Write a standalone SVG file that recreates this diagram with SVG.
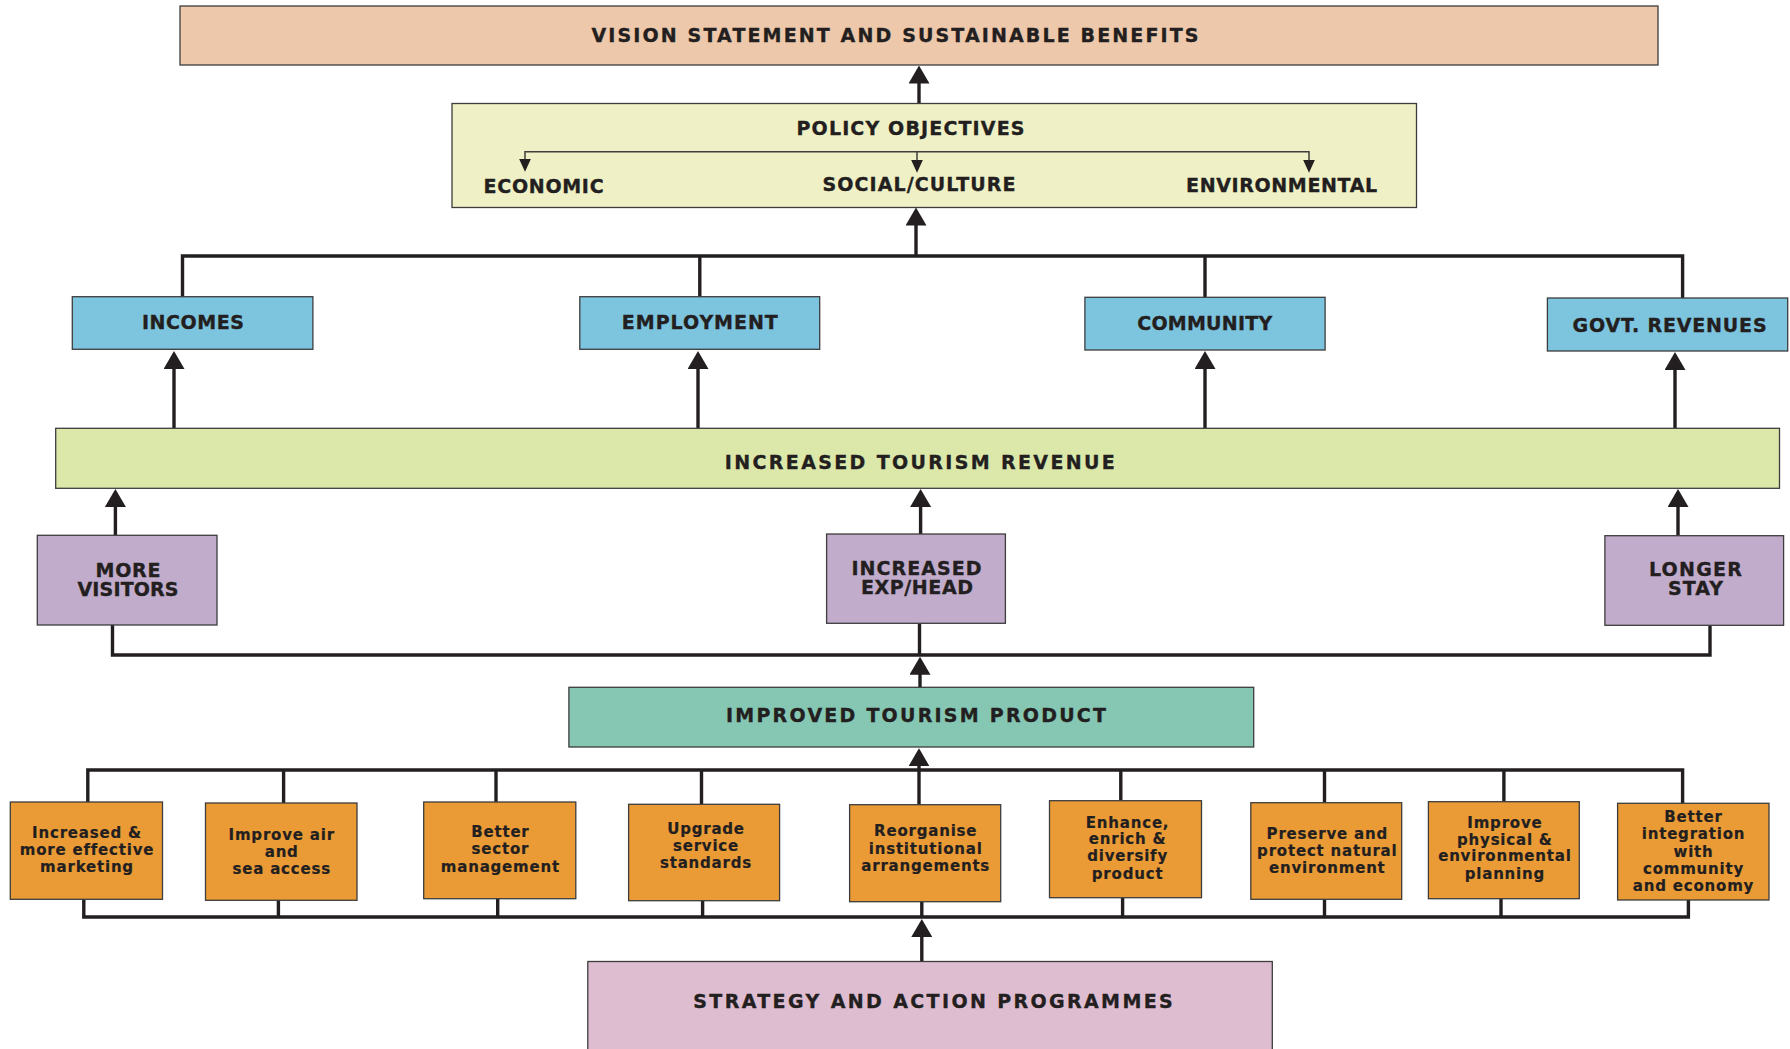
<svg xmlns="http://www.w3.org/2000/svg" width="1790" height="1049" viewBox="0 0 1790 1049">
  <defs>
    <style>
      .box { stroke: #3d3d3d; stroke-width: 1.3; }
      .vision { fill: #EEC8AB; }
      .policy { fill: #EFF0C5; }
      .blue { fill: #7DC4DF; }
      .revenue { fill: #DCE8AA; }
      .purple { fill: #C1ACCC; }
      .teal { fill: #85C7B3; }
      .orange { fill: #EA9B36; }
      .pink { fill: #DFBDD0; }
      text { font-family: "DejaVu Sans", "Liberation Sans", Arial, sans-serif; font-weight: bold; fill: #231F20; text-anchor: middle; }
      .cap { font-size: 19px; stroke: #231F20; stroke-width: 0.35; }
      .small { font-size: 15px; letter-spacing: 0.8px; stroke: #231F20; stroke-width: 0.2; }
      .link { fill: none; stroke: #231F20; stroke-width: 3.4; }
      .thin { fill: none; stroke: #3d3d3d; stroke-width: 1.5; }
    </style>
    <marker id="head" markerUnits="userSpaceOnUse" markerWidth="18" markerHeight="21" viewBox="0 0 18 21" refX="14" refY="10.5" orient="auto">
      <path d="M0,0 L18,10.5 L0,21 z" fill="#231F20"/>
    </marker>
    <marker id="headSmall" markerUnits="userSpaceOnUse" markerWidth="13" markerHeight="12" viewBox="0 0 13 12" refX="10" refY="6" orient="auto">
      <path d="M0,0 L13,6 L0,12 z" fill="#231F20"/>
    </marker>
  </defs>

  <rect width="1790" height="1049" fill="#ffffff"/>

  <!-- connectors -->
  <g id="connectors">
    <!-- policy objectives to vision -->
    <line class="link" x1="919" y1="103.5" x2="919" y2="69.5" marker-end="url(#head)"/>

    <!-- outcome boxes up to policy objectives -->
    <path class="link" d="M182.5,296.7 V256 H1682.6 V298"/>
    <line class="link" x1="699.8" y1="256" x2="699.8" y2="296.7"/>
    <line class="link" x1="1205" y1="256" x2="1205" y2="297.3"/>
    <line class="link" x1="916" y1="256" x2="916" y2="211.5" marker-end="url(#head)"/>

    <!-- revenue up to outcome boxes -->
    <line class="link" x1="174" y1="428.3" x2="174" y2="355" marker-end="url(#head)"/>
    <line class="link" x1="698" y1="428.3" x2="698" y2="355" marker-end="url(#head)"/>
    <line class="link" x1="1205" y1="428.3" x2="1205" y2="355" marker-end="url(#head)"/>
    <line class="link" x1="1675" y1="428.3" x2="1675" y2="356" marker-end="url(#head)"/>

    <!-- drivers up to revenue -->
    <line class="link" x1="115.4" y1="535.3" x2="115.4" y2="493" marker-end="url(#head)"/>
    <line class="link" x1="920.6" y1="534" x2="920.6" y2="493" marker-end="url(#head)"/>
    <line class="link" x1="1678" y1="535.7" x2="1678" y2="493" marker-end="url(#head)"/>

    <!-- drivers joined below -->
    <path class="link" d="M112.5,625 V655 H1710 V625.3"/>
    <line class="link" x1="919.5" y1="623.3" x2="919.5" y2="655"/>
    <line class="link" x1="920" y1="687.3" x2="920" y2="660.7" marker-end="url(#head)"/>

    <!-- action boxes, upper tree -->
    <path class="link" d="M87.8,802 V770 H1682.6 V803.3"/>
    <line class="link" x1="283.6" y1="770" x2="283.6" y2="803"/>
    <line class="link" x1="496" y1="770" x2="496" y2="802"/>
    <line class="link" x1="701.5" y1="770" x2="701.5" y2="804.3"/>
    <line class="link" x1="1120.8" y1="770" x2="1120.8" y2="800.7"/>
    <line class="link" x1="1324.5" y1="770" x2="1324.5" y2="802.7"/>
    <line class="link" x1="1503.9" y1="770" x2="1503.9" y2="801.7"/>
    <line class="link" x1="919" y1="804.7" x2="919" y2="752.3" marker-end="url(#head)"/>

    <!-- action boxes, lower tree -->
    <path class="link" d="M83.8,899.3 V917 H1688.4 V900"/>
    <line class="link" x1="278.4" y1="917" x2="278.4" y2="900.3"/>
    <line class="link" x1="497.7" y1="917" x2="497.7" y2="898.7"/>
    <line class="link" x1="702.6" y1="917" x2="702.6" y2="900.7"/>
    <line class="link" x1="921.8" y1="917" x2="921.8" y2="901.7"/>
    <line class="link" x1="1122.6" y1="917" x2="1122.6" y2="897.7"/>
    <line class="link" x1="1324.5" y1="917" x2="1324.5" y2="899.3"/>
    <line class="link" x1="1501" y1="917" x2="1501" y2="898.7"/>
    <line class="link" x1="921.8" y1="961.5" x2="921.8" y2="923" marker-end="url(#head)"/>
  </g>

  <!-- vision -->
  <g id="vision">
    <rect class="box vision" x="180" y="6" width="1478" height="59"/>
    <text class="cap" x="895" y="42" textLength="607">VISION STATEMENT AND SUSTAINABLE BENEFITS</text>
  </g>

  <!-- policy objectives -->
  <g id="policy">
    <rect class="box policy" x="452" y="103.5" width="964.5" height="104"/>
    <text class="cap" x="910.5" y="135" textLength="228">POLICY OBJECTIVES</text>
    <line class="thin" x1="525" y1="151.7" x2="1309" y2="151.7"/>
    <line class="thin" x1="525" y1="151" x2="525" y2="168.7" marker-end="url(#headSmall)"/>
    <line class="thin" x1="917" y1="151.7" x2="917" y2="169.7" marker-end="url(#headSmall)"/>
    <line class="thin" x1="1309" y1="151" x2="1309" y2="169.7" marker-end="url(#headSmall)"/>
    <text class="cap" x="543.6" y="192.7" textLength="120">ECONOMIC</text>
    <text class="cap" x="919" y="190.7" textLength="193">SOCIAL/CULTURE</text>
    <text class="cap" x="1281.6" y="191.7" textLength="191">ENVIRONMENTAL</text>
  </g>

  <!-- outcomes -->
  <g id="incomes">
    <rect class="box blue" x="72.3" y="296.7" width="240.6" height="52.6"/>
    <text class="cap" x="192.9" y="329.3" textLength="102">INCOMES</text>
  </g>
  <g id="employment">
    <rect class="box blue" x="579.8" y="296.7" width="239.9" height="52.6"/>
    <text class="cap" x="699.8" y="329" textLength="156">EMPLOYMENT</text>
  </g>
  <g id="community">
    <rect class="box blue" x="1084.9" y="297.3" width="240.2" height="52.7"/>
    <text class="cap" x="1204.7" y="330" textLength="135">COMMUNITY</text>
  </g>
  <g id="govt-revenues">
    <rect class="box blue" x="1547.4" y="298" width="240.3" height="53"/>
    <text class="cap" x="1669.6" y="331.7" textLength="194">GOVT. REVENUES</text>
  </g>

  <!-- revenue -->
  <g id="tourism-revenue">
    <rect class="box revenue" x="55.7" y="428.3" width="1723.8" height="60"/>
    <text class="cap" x="919.8" y="468.7" textLength="390">INCREASED TOURISM REVENUE</text>
  </g>

  <!-- drivers -->
  <g id="more-visitors">
    <rect class="box purple" x="37.3" y="535.3" width="179.7" height="89.7"/>
    <text class="cap" x="128" y="577.3" textLength="65">MORE</text>
    <text class="cap" x="128" y="596" textLength="101">VISITORS</text>
  </g>
  <g id="exp-head">
    <rect class="box purple" x="826.6" y="534" width="178.8" height="89.3"/>
    <text class="cap" x="916.5" y="575" textLength="130">INCREASED</text>
    <text class="cap" x="917" y="594" textLength="112">EXP/HEAD</text>
  </g>
  <g id="longer-stay">
    <rect class="box purple" x="1604.9" y="535.7" width="178.7" height="89.6"/>
    <text class="cap" x="1695.4" y="576" textLength="93">LONGER</text>
    <text class="cap" x="1695.4" y="595.3" textLength="55">STAY</text>
  </g>

  <!-- product -->
  <g id="tourism-product">
    <rect class="box teal" x="568.9" y="687.3" width="684.8" height="59.7"/>
    <text class="cap" x="916" y="722.3" textLength="380">IMPROVED TOURISM PRODUCT</text>
  </g>

  <!-- actions -->
  <g id="action-marketing">
    <rect class="box orange" x="10.3" y="802" width="152.2" height="97.3"/>
    <text class="small" x="87" y="838.3">Increased &amp;</text>
    <text class="small" x="87" y="855">more effective</text>
    <text class="small" x="87" y="872">marketing</text>
  </g>
  <g id="action-access">
    <rect class="box orange" x="205.5" y="803" width="151.5" height="97.3"/>
    <text class="small" x="281.7" y="840">Improve air</text>
    <text class="small" x="281.7" y="857.3">and</text>
    <text class="small" x="281.7" y="874.3">sea access</text>
  </g>
  <g id="action-management">
    <rect class="box orange" x="423.7" y="802" width="152.1" height="96.7"/>
    <text class="small" x="500.4" y="837.3">Better</text>
    <text class="small" x="500.4" y="854.3">sector</text>
    <text class="small" x="500.4" y="872.3">management</text>
  </g>
  <g id="action-standards">
    <rect class="box orange" x="628.6" y="804.3" width="151" height="96.4"/>
    <text class="small" x="706" y="834">Upgrade</text>
    <text class="small" x="706" y="851.3">service</text>
    <text class="small" x="706" y="868.3">standards</text>
  </g>
  <g id="action-institutions">
    <rect class="box orange" x="849.6" y="804.7" width="151.1" height="97"/>
    <text class="small" x="925.7" y="836">Reorganise</text>
    <text class="small" x="925.7" y="854">institutional</text>
    <text class="small" x="925.7" y="871">arrangements</text>
  </g>
  <g id="action-product">
    <rect class="box orange" x="1049.5" y="800.7" width="152" height="97"/>
    <text class="small" x="1127.6" y="827.7">Enhance,</text>
    <text class="small" x="1127.6" y="844.3">enrich &amp;</text>
    <text class="small" x="1127.6" y="861.3">diversify</text>
    <text class="small" x="1127.6" y="878.7">product</text>
  </g>
  <g id="action-environment">
    <rect class="box orange" x="1250.8" y="802.7" width="150.9" height="96.6"/>
    <text class="small" x="1327.3" y="839">Preserve and</text>
    <text class="small" x="1327.3" y="856">protect natural</text>
    <text class="small" x="1327.3" y="872.7">environment</text>
  </g>
  <g id="action-planning">
    <rect class="box orange" x="1428.4" y="801.7" width="150.9" height="97"/>
    <text class="small" x="1504.9" y="827.7">Improve</text>
    <text class="small" x="1504.9" y="844.7">physical &amp;</text>
    <text class="small" x="1504.9" y="861.3">environmental</text>
    <text class="small" x="1504.9" y="879.3">planning</text>
  </g>
  <g id="action-integration">
    <rect class="box orange" x="1617.6" y="803.3" width="151.4" height="96.7"/>
    <text class="small" x="1693.5" y="822.3">Better</text>
    <text class="small" x="1693.5" y="839.3">integration</text>
    <text class="small" x="1693.5" y="856.7">with</text>
    <text class="small" x="1693.5" y="873.7">community</text>
    <text class="small" x="1693.5" y="890.7">and economy</text>
  </g>

  <!-- strategy -->
  <g id="strategy">
    <rect class="box pink" x="587.8" y="961.5" width="684.5" height="100"/>
    <text class="cap" x="933" y="1007.7" textLength="479.5">STRATEGY AND ACTION PROGRAMMES</text>
  </g>
</svg>
